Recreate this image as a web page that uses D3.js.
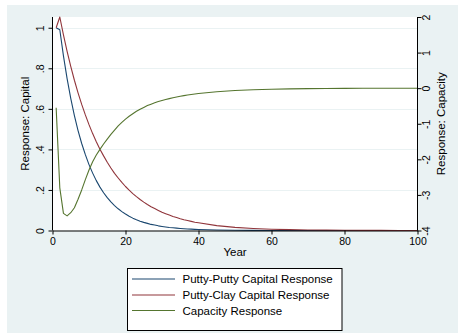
<!DOCTYPE html>
<html>
<head>
<meta charset="utf-8">
<script src="https://cdn.jsdelivr.net/npm/d3@7"></script>
<style>
  body { margin: 0; background: #fff; }
  text { font-family: "Liberation Sans", Arial, sans-serif; fill: #000; }
</style>
</head>
<body>
<div id="chart"></div>
<script>
// Years of the simulation
const years = [
    1, 2, 3, 4, 5, 6, 7, 8, 9, 10,
    11, 12, 13, 14, 15, 16, 17, 18, 19, 20,
    21, 22, 23, 24, 25, 26, 27, 28, 29, 30,
    31, 32, 33, 34, 35, 36, 37, 38, 39, 40,
    45, 50, 55, 60, 65, 70, 75, 80, 85, 90, 95, 100
];

// Putty-putty capital response (left axis)
const puttyPutty = [
    1.000, 0.990, 0.861, 0.749, 0.652, 0.567, 0.493, 0.429, 0.374, 0.325,
    0.283, 0.246, 0.214, 0.186, 0.162, 0.141, 0.123, 0.107, 0.093, 0.081,
    0.070, 0.061, 0.053, 0.046, 0.040, 0.035, 0.030, 0.027, 0.023, 0.020,
    0.0174, 0.0150, 0.0133, 0.0116, 0.0100, 0.0087, 0.0076, 0.0066, 0.0057, 0.0050,
    0.0025, 0.0012, 0.0006, 0.0003, 0.0001, 0.0001, 0, 0, 0, 0, 0, 0
];

// Putty-clay capital response (left axis)
const puttyClay = [
    1.000, 1.053, 0.965, 0.884, 0.809, 0.741, 0.679, 0.622, 0.570, 0.522,
    0.478, 0.438, 0.401, 0.368, 0.337, 0.308, 0.282, 0.259, 0.237, 0.217,
    0.199, 0.182, 0.167, 0.153, 0.140, 0.128, 0.117, 0.108, 0.099, 0.090,
    0.083, 0.076, 0.069, 0.064, 0.058, 0.053, 0.049, 0.045, 0.041, 0.038,
    0.024, 0.0156, 0.0101, 0.0065, 0.0042, 0.0027, 0.0017, 0.0011, 0.0007, 0.0005, 0.0003, 0.0002
];

// Capacity response (right axis)
const capacity = [
    -0.55, -2.80, -3.52, -3.59, -3.50, -3.36, -3.12, -2.86, -2.57, -2.30,
    -2.07, -1.88, -1.72, -1.57, -1.43, -1.30, -1.18, -1.06, -0.96, -0.87,
    -0.79, -0.72, -0.65, -0.59, -0.54, -0.49, -0.45, -0.41, -0.375, -0.345,
    -0.318, -0.293, -0.270, -0.248, -0.228, -0.210, -0.193, -0.178, -0.164, -0.151,
    -0.100, -0.066, -0.044, -0.029, -0.019, -0.013, -0.008, -0.006, -0.004, -0.002, -0.002, -0.001
];

const xTicks = [0, 20, 40, 60, 80, 100];
const leftTicks = [0, 0.2, 0.4, 0.6, 0.8, 1];
const leftTickLabels = ["0", ".2", ".4", ".6", ".8", "1"];
const rightTicks = [-4, -3, -2, -1, 0, 1, 2];
const rightTickLabels = ["-4", "-3", "-2", "-1", "0", "1", "2"];

const seriesNames = ["Putty-Putty Capital Response", "Putty-Clay Capital Response", "Capacity Response"];
const seriesColors = ["#1a476f", "#90353b", "#55752f"];

const width = 458;
const height = 333;
const bg = "#eaf2f3";

const xScale = d3.scaleLinear().domain([0, 100]).range([52.5, 417.5]);
const yLeft = d3.scaleLinear().domain([0, 1.053]).range([230.5, 17]);
const yRight = d3.scaleLinear().domain([-4, 2]).range([230.5, 17]);

const svg = d3.select("#chart")
    .append("svg")
    .attr("width", width)
    .attr("height", height);

// Outer graph region
svg.append("rect")
    .attr("x", 7).attr("y", 5)
    .attr("width", width - 7).attr("height", height - 5)
    .attr("fill", bg);

// Plot region
svg.append("rect")
    .attr("x", xScale(0)).attr("y", 17)
    .attr("width", xScale(100) - xScale(0)).attr("height", 230.5 - 17)
    .attr("fill", "#fff");

// Gridlines
svg.append("g")
    .selectAll("line")
    .data(leftTicks.slice(1))
    .enter()
    .append("line")
    .attr("x1", xScale(0)).attr("x2", xScale(100))
    .attr("y1", d => Math.round(yLeft(d)) + 0.5)
    .attr("y2", d => Math.round(yLeft(d)) + 0.5)
    .attr("stroke", bg)
    .attr("stroke-width", 1);

// Series lines
const series = [
    {values: puttyPutty, scale: yLeft},
    {values: puttyClay, scale: yLeft},
    {values: capacity, scale: yRight}
];

series.forEach((s, i) => {
    const line = d3.line()
        .x((d, j) => xScale(years[j]))
        .y(d => s.scale(d));
    svg.append("path")
        .datum(s.values)
        .attr("d", line)
        .attr("fill", "none")
        .attr("stroke", seriesColors[i])
        .attr("stroke-width", 1.1)
        .attr("stroke-linejoin", "round");
});

// X axis
const xAxis = svg.append("g")
    .attr("transform", "translate(0,230.5)")
    .call(d3.axisBottom(xScale).tickValues(xTicks).tickSize(4).tickSizeOuter(0).tickPadding(3));
xAxis.selectAll("text").style("font-size", "10.5px").attr("dy", "0.71em");

// Left axis
const leftAxis = svg.append("g")
    .attr("transform", "translate(52.5,0)")
    .call(d3.axisLeft(yLeft).tickValues(leftTicks)
        .tickFormat((d, i) => leftTickLabels[i]).tickSize(4).tickSizeOuter(0));
leftAxis.select(".domain").attr("d", "M0,17V230.5");
leftAxis.selectAll(".tick text")
    .attr("x", null).attr("dy", null)
    .attr("text-anchor", "middle")
    .attr("transform", "translate(-8.5,0) rotate(-90)")
    .style("font-size", "10.5px");

// Right axis
const rightAxis = svg.append("g")
    .attr("transform", "translate(417.5,0)")
    .call(d3.axisRight(yRight).tickValues(rightTicks)
        .tickFormat((d, i) => rightTickLabels[i]).tickSize(4).tickSizeOuter(0));
rightAxis.select(".domain").attr("d", "M0,17V230.5");
rightAxis.selectAll(".tick text")
    .attr("x", null).attr("dy", null)
    .attr("text-anchor", "middle")
    .attr("transform", "translate(12,0) rotate(-90)")
    .style("font-size", "10.5px");

svg.selectAll(".domain, .tick line").attr("stroke", "#000");

// Axis titles
svg.append("text")
    .attr("transform", `translate(29,${(17 + 230.5) / 2}) rotate(-90)`)
    .attr("text-anchor", "middle")
    .style("font-size", "11.5px")
    .text("Response: Capital");

svg.append("text")
    .attr("transform", `translate(444.5,${(17 + 230.5) / 2}) rotate(-90)`)
    .attr("text-anchor", "middle")
    .style("font-size", "11.5px")
    .text("Response: Capacity");

svg.append("text")
    .attr("x", (xScale(0) + xScale(100)) / 2)
    .attr("y", 256)
    .attr("text-anchor", "middle")
    .style("font-size", "11.5px")
    .text("Year");

// Legend
const legend = svg.append("g");
legend.append("rect")
    .attr("x", 127.5).attr("y", 268.5)
    .attr("width", 214.5).attr("height", 62)
    .attr("fill", "#fff")
    .attr("stroke", "#000")
    .attr("stroke-width", 1);

const legendRows = [279, 295, 310.5];
seriesNames.forEach((name, i) => {
    legend.append("line")
        .attr("x1", 132).attr("x2", 175)
        .attr("y1", legendRows[i]).attr("y2", legendRows[i])
        .attr("stroke", seriesColors[i])
        .attr("stroke-width", 1.1);
    legend.append("text")
        .attr("x", 182.5)
        .attr("y", legendRows[i] + 4)
        .style("font-size", "11.5px")
        .text(name);
});
</script>
</body>
</html>
